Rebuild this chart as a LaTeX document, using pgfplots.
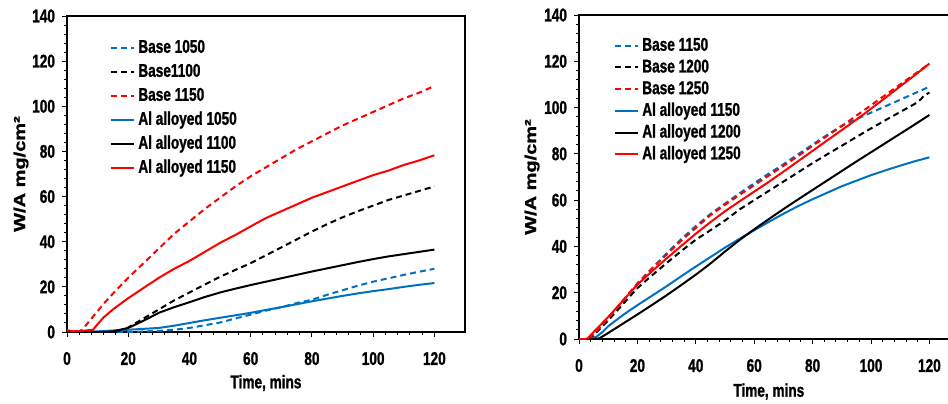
\documentclass[border=0pt]{standalone}
\usepackage{fontspec}
\usepackage{graphicx}
\usepackage{pgfplots}
\pgfplotsset{compat=1.18}
\setmainfont{Liberation Sans}[FakeStretch=0.74, BoldFeatures={FakeBold=1.2}]
\newfontfamily\ylabfont{Liberation Sans}[BoldFeatures={FakeBold=1.2}]
\definecolor{xblue}{RGB}{0,112,192}
\definecolor{xred}{RGB}{255,0,0}
\pgfplotsset{
  mystyle/.style={
    scale only axis,
    xmin=0, xmax=130, ymin=0, ymax=140,
    xtick={0,20,...,120}, ytick={0,20,...,140},
    minor x tick num=4, minor y tick num=4,
    tick align=outside, xtick pos=bottom, ytick pos=left,
    major tick length=2.5pt, minor tick length=1.5pt,
    axis line style={line width=1pt},
    every tick/.style={black, line width=0.5pt},
    /pgf/number format/assume math mode=true,
    tick label style={font=\fontsize{9.2}{10}\selectfont\bfseries},
    xticklabel style={yshift=-4pt},
    label style={font=\fontsize{9.2}{10}\selectfont\bfseries},
    xlabel={Time, mins},
    ylabel={\ylabfont\fontsize{10}{12}\selectfont\bfseries\scalebox{1}[0.8]{W/A mg/cm²}},
    legend cell align=left,
    legend image code/.code={\draw[##1] (0pt,0pt) -- (11.5pt,0pt);},
    legend style={draw=none, fill=none, anchor=north west, inner sep=0pt,
      font=\fontsize{9.2}{10}\selectfont\bfseries,
      nodes={inner sep=0pt, text height=6.5pt, text depth=1.5pt},
      column sep=1.5pt},
    every axis plot/.append style={line width=1pt},
  },
  bdash/.style={dash pattern=on 3pt off 2pt},
}
\begin{document}
\begin{tikzpicture}
\begin{axis}[mystyle, at={(33.5pt,35.5pt)}, anchor=south west,
  width=199pt, height=158pt,
  xlabel style={at={(axis description cs:0.5,-0.1614)}, anchor=center},
  ylabel style={at={(axis description cs:-0.1156,0.5)}, anchor=center},
  legend style={at={(axis description cs:0.108,0.926)}, row sep=4pt}]
\addplot[xblue, bdash] coordinates {(0,0)(20,0)(30,0.5)(35,1)(40,1.8)(45,3)(50,4.2)(55,6)(60,7.7)(65,9.5)(70,11)(75,12.8)(80,14.3)(85,16.5)(90,18.5)(95,20.5)(100,22.3)(105,23.8)(110,25.3)(115,26.7)(120,28)};
\addlegendentry{Base 1050}
\addplot[black, bdash] coordinates {(0,0)(14,0)(17,0.5)(20,2)(25,6)(30,10)(35,14)(40,17.5)(45,21)(50,24.5)(55,27.5)(60,30.5)(65,34)(70,37.5)(75,41)(80,44.5)(85,47.8)(90,50.8)(95,53.5)(100,56)(105,58.5)(110,60.5)(115,62.5)(120,64.5)};
\addlegendentry{Base1100}
\addplot[xred, bdash] coordinates {(0,0.5)(4,0.3)(5,1)(8,6)(12,12.5)(16,18.5)(20,24)(25,30.5)(30,37)(35,43.5)(40,49)(45,54.5)(50,59.5)(55,64.5)(60,69)(65,73)(70,77)(75,81)(80,84.5)(85,88)(90,91.5)(95,94.5)(100,97.5)(105,100.5)(110,103.5)(115,106)(120,109)};
\addlegendentry{Base 1150}
\addplot[xblue] coordinates {(0,0)(10,0.3)(20,1)(30,1.8)(35,2.8)(40,4)(45,5.2)(50,6.3)(55,7.4)(60,8.5)(65,9.8)(70,11)(75,12.3)(80,13.6)(85,14.8)(90,16)(95,17.1)(100,18.1)(105,19)(110,20)(115,20.9)(120,21.7)};
\addlegendentry{Al alloyed 1050}
\addplot[black] coordinates {(0,0)(12,0)(15,0.3)(20,1.8)(25,5)(30,8.5)(35,11)(40,13.2)(45,15.5)(50,17.5)(55,19.2)(60,20.8)(65,22.3)(70,23.8)(75,25.3)(80,26.8)(85,28.2)(90,29.6)(95,31)(100,32.3)(105,33.5)(110,34.5)(115,35.5)(120,36.5)};
\addlegendentry{Al alloyed 1100}
\addplot[xred] coordinates {(0,0.8)(2,0.3)(5,0.5)(8.5,1)(10,3.5)(12,6.5)(15,10)(20,15)(25,19.5)(30,24)(35,28)(40,31.5)(45,35.5)(50,39.5)(55,43)(60,46.8)(65,50.5)(70,53.5)(75,56.5)(80,59.5)(85,62)(90,64.5)(95,67)(100,69.5)(105,71.5)(110,74)(115,76)(120,78.3)};
\addlegendentry{Al alloyed 1150}
\end{axis}
\begin{axis}[mystyle, at={(289.5pt,32pt)}, anchor=south west,
  width=189.8pt, height=162pt,
  xlabel style={at={(axis description cs:0.5,-0.162)}, anchor=center},
  ylabel style={at={(axis description cs:-0.1238,0.5)}, anchor=center},
  legend style={at={(axis description cs:0.092,0.931)}, row sep=2.85pt}]
\addplot[xblue, bdash] coordinates {(0,0)(3,0)(5,2)(10,9)(15,16.5)(20,24)(25,30.5)(30,37)(35,43.2)(40,48.8)(45,54)(50,58.5)(55,63)(60,67.3)(65,71.5)(70,75.5)(75,79.8)(80,84)(85,88.2)(90,92.2)(95,95)(100,97.8)(105,100.6)(110,103.4)(115,106.2)(120,109)};
\addlegendentry{Base 1150}
\addplot[black, bdash] coordinates {(0,0)(4,0)(6,3)(10,8)(15,15)(20,22)(25,27.5)(30,32.8)(35,38)(40,42.9)(45,47)(50,51.2)(55,56)(60,60)(65,64)(70,68)(75,72)(80,76)(85,79.8)(90,83.5)(95,87.3)(100,91)(105,94.6)(110,98.1)(115,101.6)(117,103.5)(118,105)(120,106.5)};
\addlegendentry{Base 1200}
\addplot[xred, bdash] coordinates {(0,0)(3,0)(5,2)(10,9)(15,16.5)(20,24)(25,30.5)(30,36.5)(35,42.5)(40,48)(45,53.5)(50,58)(55,62.3)(60,66.5)(65,70.6)(70,74.8)(75,79)(80,83.5)(85,87.8)(90,92)(95,96.5)(100,101)(105,105.5)(110,110)(115,114.5)(120,119)};
\addlegendentry{Base 1250}
\addplot[xblue] coordinates {(0,0)(4,0)(6,1)(8,3)(10,5.5)(15,10.3)(17.5,12.5)(20,14.6)(25,18.7)(30,22.8)(35,27.1)(40,31.3)(45,35.4)(50,39.5)(55,43.3)(60,47)(65,50.6)(70,54.1)(75,57.4)(80,60.4)(85,63.2)(90,66)(95,68.4)(100,70.8)(105,72.9)(110,74.9)(115,76.8)(120,78.5)};
\addlegendentry{Al alloyed 1150}
\addplot[black] coordinates {(0,0)(5,0)(7,0.3)(10,2.6)(15,6.6)(20,10.6)(25,14.7)(30,18.9)(35,23.3)(40,27.8)(45,32.6)(50,37.8)(55,42.8)(60,47.4)(65,51.8)(70,56.1)(75,60.3)(80,64.4)(85,68.5)(90,72.6)(95,76.7)(100,80.7)(105,84.7)(110,88.7)(115,92.7)(120,96.8)};
\addlegendentry{Al alloyed 1200}
\addplot[xred] coordinates {(0,0)(2,0)(3,0.3)(5,3)(10,9.5)(15,16.5)(20,23.5)(25,29.3)(30,34.8)(35,40.2)(40,45.5)(45,50.5)(50,55.2)(55,59.5)(60,63.7)(65,67.9)(70,72.3)(75,76.8)(80,81.3)(85,85.8)(90,90.3)(95,94.8)(100,99.5)(105,104.3)(110,109.2)(115,114)(120,119)};
\addlegendentry{Al alloyed 1250}
\end{axis}
\pgfresetboundingbox
\path[use as bounding box] (0,0) rectangle (474pt,201.5pt);
\end{tikzpicture}
\end{document}
